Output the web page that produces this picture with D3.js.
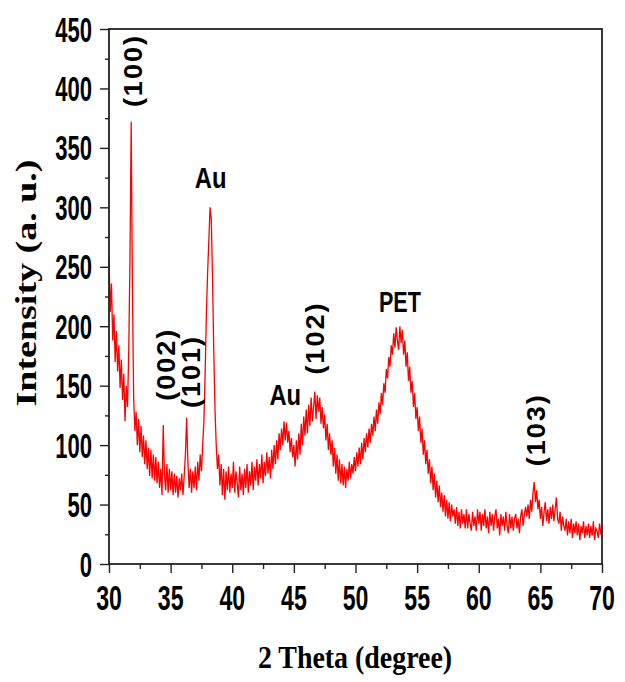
<!DOCTYPE html>
<html>
<head>
<meta charset="utf-8">
<script src="https://cdn.jsdelivr.net/npm/d3@7"></script>
<style>
  body { margin: 0; background: #fff; }
  svg { display: block; }
</style>
</head>
<body>
<div id="plot"></div>
<script>
// XRD trace at 0.1 degree steps from 30 to 70
const startAngle = 30;
const stepAngle = 0.1;
const intensity = [
  258, 212, 236, 188, 210, 170, 196, 162, 184, 148,
  172, 138, 160, 120, 150, 132, 178, 255, 372, 232,
  140, 112, 128, 100, 122, 94, 116, 90, 108, 84,
  104, 80, 98, 74, 96, 72, 92, 70, 90, 68,
  86, 64, 80, 58, 117, 76, 62, 84, 60, 80,
  62, 78, 58, 76, 60, 74, 56, 72, 62, 76,
  58, 74, 92, 123, 86, 64, 80, 60, 78, 64,
  82, 62, 86, 70, 92, 78, 100, 120, 160, 210,
  245, 272, 300, 290, 240, 180, 130, 100, 80, 92,
  66, 84, 58, 80, 54, 78, 62, 82, 60, 76,
  64, 86, 60, 78, 68, 56, 82, 62, 76, 58,
  80, 64, 84, 60, 78, 66, 86, 62, 82, 70,
  88, 66, 84, 72, 92, 68, 86, 74, 94, 76,
  90, 72, 96, 80, 100, 84, 104, 88, 110, 96,
  114, 100, 120, 104, 119, 102, 112, 94, 106, 90,
  100, 82, 104, 88, 110, 92, 118, 100, 124, 108,
  130, 110, 134, 116, 140, 120, 132, 145, 122, 142,
  128, 140, 118, 132, 114, 126, 104, 118, 96, 110,
  92, 104, 82, 98, 76, 92, 70, 88, 68, 84,
  66, 82, 64, 80, 70, 86, 72, 84, 76, 90,
  78, 94, 82, 98, 84, 102, 88, 106, 94, 110,
  98, 114, 102, 118, 108, 124, 112, 130, 118, 136,
  126, 144, 134, 152, 144, 164, 156, 174, 166, 184,
  176, 194, 182, 199, 188, 180, 200, 186, 197, 176,
  188, 166, 178, 154, 166, 144, 154, 132, 144, 122,
  132, 112, 124, 102, 114, 92, 104, 84, 96, 76,
  88, 68, 82, 62, 76, 56, 70, 52, 66, 48,
  60, 44, 58, 40, 54, 38, 52, 36, 50, 40,
  46, 34, 48, 32, 44, 30, 46, 34, 42, 30,
  46, 30, 42, 34, 28, 44, 32, 40, 28, 46,
  34, 44, 28, 42, 32, 46, 30, 40, 26, 44,
  32, 42, 28, 40, 46, 30, 38, 24, 42, 32,
  40, 28, 44, 32, 26, 42, 30, 40, 28, 38,
  42, 30, 38, 26, 40, 46, 32, 42, 48, 40,
  50, 38, 54, 44, 60, 69, 52, 62, 46, 54,
  38, 48, 32, 44, 52, 36, 46, 34, 48, 38,
  50, 36, 46, 56, 38, 34, 44, 28, 40, 32,
  28, 38, 24, 36, 26, 38, 22, 34, 26, 36,
  24, 34, 20, 32, 26, 36, 22, 32, 24, 34,
  22, 32, 24, 36, 20, 30, 28, 22, 34, 26,
  28
];

const xTicks = [30, 35, 40, 45, 50, 55, 60, 65, 70];
const yTicks = [0, 50, 100, 150, 200, 250, 300, 350, 400, 450];

// peak labels: text, angle, intensity where the label sits
const peakNames = ["(100)", "(002)", "(101)", "Au", "Au", "(102)", "PET", "(103)"];
const peakAngles = [31.95, 34.6, 36.65, 38.25, 44.3, 46.7, 53.6, 64.65];
const peakLevels = [415, 168, 162, 316, 134, 190, 212, 113];
const peakRotated = [true, true, true, false, false, true, false, true];

// canvas
let width = 625;
let height = 682;
let margin = {top: 29, right: 23, bottom: 118, left: 109};

const svg = d3.select("#plot").append("svg")
    .attr("width", width)
    .attr("height", height);

// scales
const xScale = d3.scaleLinear()
    .domain([30, 70])
    .range([margin.left, width - margin.right]);

const yScale = d3.scaleLinear()
    .domain([0, 450])
    .range([height - margin.bottom, margin.top]);

const points = intensity.map((v, i) => [startAngle + i * stepAngle, v]);

// condensed bold text, the picture is squeezed sideways
function label(g, x, y, txt, opts) {
    const sx = opts.sx || 0.65;
    const rot = opts.rotate ? " rotate(-90)" : "";
    return g.append("text")
        .attr("transform", `translate(${x},${y}) scale(${sx},1)${rot}`)
        .attr("text-anchor", opts.anchor || "middle")
        .attr("font-family", opts.family || "'Liberation Sans', Arial, sans-serif")
        .attr("font-weight", "bold")
        .attr("font-size", opts.size)
        .attr("letter-spacing", opts.spacing || 0)
        .attr("fill", "#000")
        .text(txt);
}

// the trace
const line = d3.line()
    .x(d => xScale(d[0]))
    .y(d => yScale(d[1]));

svg.append("path")
    .datum(points)
    .attr("fill", "none")
    .attr("stroke", "#ff0000")
    .attr("stroke-width", 1.3)
    .attr("d", line);

// axes
const axisColor = "#222";
const xAxis = d3.axisBottom(xScale).tickValues(xTicks).tickSize(9).tickFormat("");
const xMinor = d3.axisBottom(xScale).tickValues(d3.range(32.5, 70, 5)).tickSize(5).tickFormat("");
const yAxis = d3.axisLeft(yScale).tickValues(yTicks).tickSize(9).tickFormat("");
const yMinor = d3.axisLeft(yScale).tickValues(d3.range(25, 450, 50)).tickSize(4).tickFormat("");

const bottom = height - margin.bottom;
[xAxis, xMinor].forEach(ax => {
    svg.append("g")
        .attr("transform", `translate(0,${bottom})`)
        .call(ax)
        .call(g => g.selectAll("line").attr("stroke", axisColor).attr("stroke-width", 1.4))
        .call(g => g.select(".domain").remove());
});
[yAxis, yMinor].forEach(ax => {
    svg.append("g")
        .attr("transform", `translate(${margin.left},0)`)
        .call(ax)
        .call(g => g.selectAll("line").attr("stroke", axisColor).attr("stroke-width", 1.4))
        .call(g => g.select(".domain").remove());
});

// frame
svg.append("rect")
    .attr("x", margin.left)
    .attr("y", margin.top)
    .attr("width", width - margin.right - margin.left)
    .attr("height", bottom - margin.top)
    .attr("fill", "none")
    .attr("stroke", axisColor)
    .attr("stroke-width", 1.8);

// tick labels
xTicks.forEach(t => label(svg, xScale(t), 610, t, {size: 35, sx: 0.66}));
yTicks.forEach(t => label(svg, 92, yScale(t) + 12.5, t, {size: 35, sx: 0.63, anchor: "end"}));

// axis titles
label(svg, 355, 668, "2 Theta (degree)",
    {size: 31, sx: 0.9, family: "'Liberation Serif', 'Times New Roman', serif"});
label(svg, 36, 283, "Intensity (a. u.)",
    {size: 38, sx: 0.8, rotate: true, family: "'Liberation Serif', 'Times New Roman', serif"});

// peak labels
peakNames.forEach((name, i) => {
    const x = xScale(peakAngles[i]);
    const y = yScale(peakLevels[i]);
    if (peakRotated[i]) {
        label(svg, x + 9, y, name, {size: 27, sx: 0.95, rotate: true, spacing: 2});
    } else {
        label(svg, x, y, name, {size: name === "PET" ? 30 : 29, sx: name === "PET" ? 0.72 : 0.82});
    }
});
</script>
</body>
</html>
